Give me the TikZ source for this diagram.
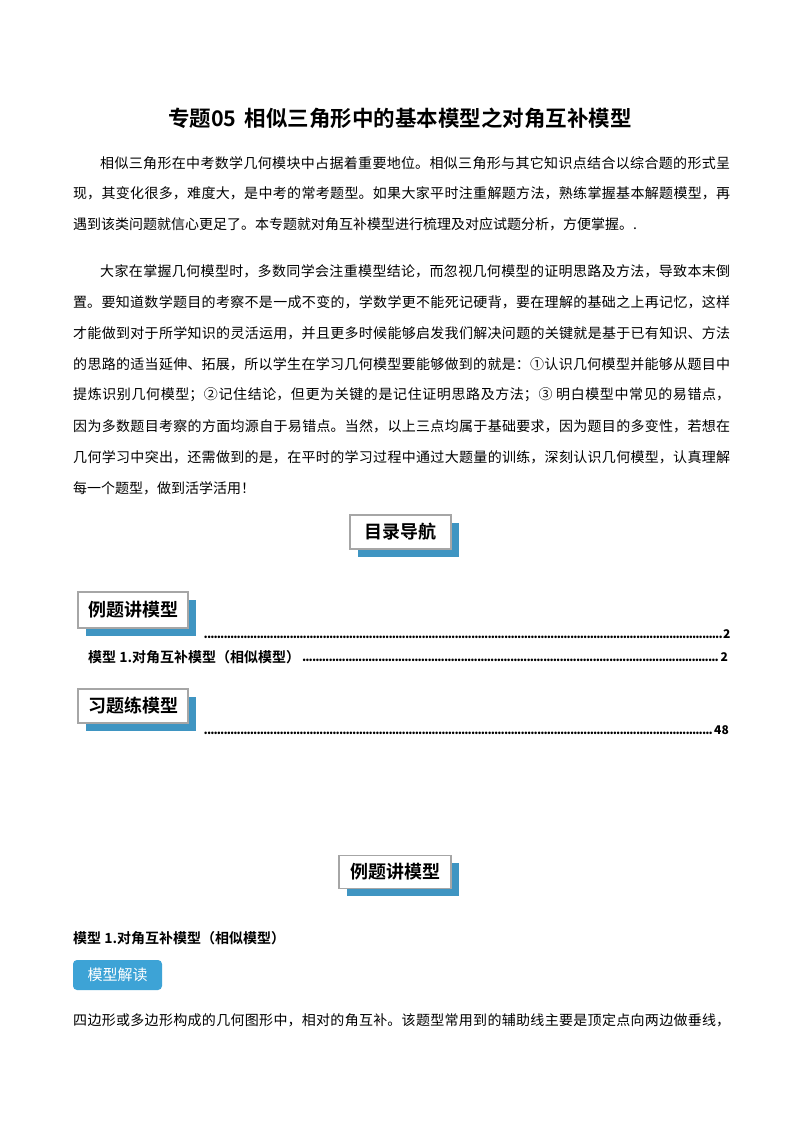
\documentclass[tikz,border=0pt]{standalone}
\usepackage{fontspec}
\setmainfont{Noto Sans CJK SC}
\newfontfamily\cjkb{Noto Sans CJK SC Bold}
\XeTeXlinebreaklocale "zh"
\XeTeXlinebreakskip=0pt plus 2pt
\definecolor{sh}{HTML}{3F95C2}
\definecolor{tagb}{HTML}{3DA3D6}
\newcommand{\jl}[2]{\parbox{#1}{\parfillskip=0pt\parindent=0pt #2\par}}
\begin{document}
\begin{tikzpicture}[x=1pt,y=-1pt,
  body/.style={anchor=west,inner sep=0,font=\fontsize{14}{14}\selectfont},
  tbox/.style={draw=gray!70,line width=1.2pt,fill=white,inner xsep=6pt,inner ysep=5pt,font=\cjkb\fontsize{18}{18}\selectfont},
  dots/.style={anchor=west,inner sep=0,font=\bfseries\fontsize{12}{12}\selectfont}]
\useasboundingbox[fill=white] (0,0) rectangle (800,1132);
\node[font=\cjkb\fontsize{21.5}{21.5}\selectfont] (title) at (400,118) {专题05\, 相似三角形中的基本模型之对角互补模型};
\node[body] (p1a) at (100,163) {\jl{630pt}{相似三角形在中考数学几何模块中占据着重要地位。相似三角形与其它知识点结合以综合题的形式呈}};
\node[body] (p1b) at (73,193) {\jl{657pt}{现，其变化很多，难度大，是中考的常考题型。如果大家平时注重解题方法，熟练掌握基本解题模型，再}};
\node[body] (p1c) at (73,224) {遇到该类问题就信心更足了。本专题就对角互补模型进行梳理及对应试题分析，方便掌握。.};
\node[body] (p2a) at (100,271) {\jl{630pt}{大家在掌握几何模型时，多数同学会注重模型结论，而忽视几何模型的证明思路及方法，导致本末倒}};
\node[body] (p2b) at (73,302) {\jl{657pt}{置。要知道数学题目的考察不是一成不变的，学数学更不能死记硬背，要在理解的基础之上再记忆，这样}};
\node[body] (p2c) at (73,333) {\jl{657pt}{才能做到对于所学知识的灵活运用，并且更多时候能够启发我们解决问题的关键就是基于已有知识、方法}};
\node[body] (p2d) at (73,364) {\jl{657pt}{的思路的适当延伸、拓展，所以学生在学习几何模型要能够做到的就是：①认识几何模型并能够从题目中}};
\node[body] (p2e) at (73,395) {\jl{657pt}{提炼识别几何模型；②记住结论，但更为关键的是记住证明思路及方法；③ 明白模型中常见的易错点，}};
\node[body] (p2f) at (73,426) {\jl{657pt}{因为多数题目考察的方面均源自于易错点。当然，以上三点均属于基础要求，因为题目的多变性，若想在}};
\node[body] (p2g) at (73,457) {\jl{657pt}{几何学习中突出，还需做到的是，在平时的学习过程中通过大题量的训练，深刻认识几何模型，认真理解}};
\node[body] (p2h) at (73,488) {每一个题型，做到活学活用！};
% boxes
\fill[sh] (358,523) rectangle (459,557);
\node[tbox,minimum width=101pt,minimum height=34pt] (mulu) at (400.5,532) {目录导航};
\fill[sh] (86,600) rectangle (196,636);
\node[tbox,minimum width=110pt,minimum height=36pt] (li1) at (133,610) {例题讲模型};
\fill[sh] (86,697) rectangle (196,731);
\node[tbox,minimum width=110pt,minimum height=34pt] (xi) at (133,706) {习题练模型};
\fill[sh] (347,863) rectangle (459,896);
\node[tbox,minimum width=112pt,minimum height=33pt] (li2) at (395,872) {例题讲模型};
% TOC
\node[dots] (d1) at (204,634) {\makebox[519pt][l]{\leaders\hbox to 3.3pt{\hss.\hss}\hfill}2};
\node[anchor=west,inner sep=0,font=\cjkb\fontsize{14}{14}\selectfont] (m1) at (88,657) {模型 1.对角互补模型（相似模型）};
\node[dots] (d2) at (m1.east) [anchor=west,xshift=2pt] {\makebox[418pt][l]{\leaders\hbox to 3.3pt{\hss.\hss}\hfill}2};
\node[dots] (d3) at (204,730) {\makebox[510pt][l]{\leaders\hbox to 3.3pt{\hss.\hss}\hfill}48};
% section
\node[anchor=west,inner sep=0,font=\cjkb\fontsize{14}{14}\selectfont] (m2) at (73,938) {模型 1.对角互补模型（相似模型）};
\node[fill=tagb,rounded corners=4pt,text=white,minimum width=89pt,minimum height=30pt,inner sep=0,font=\fontsize{15}{15}\selectfont] (tag) at (117.5,975) {模型解读};
\node[body] (last) at (73,1020) {\jl{657pt}{四边形或多边形构成的几何图形中，相对的角互补。该题型常用到的辅助线主要是顶定点向两边做垂线，}};
\end{tikzpicture}
\end{document}
